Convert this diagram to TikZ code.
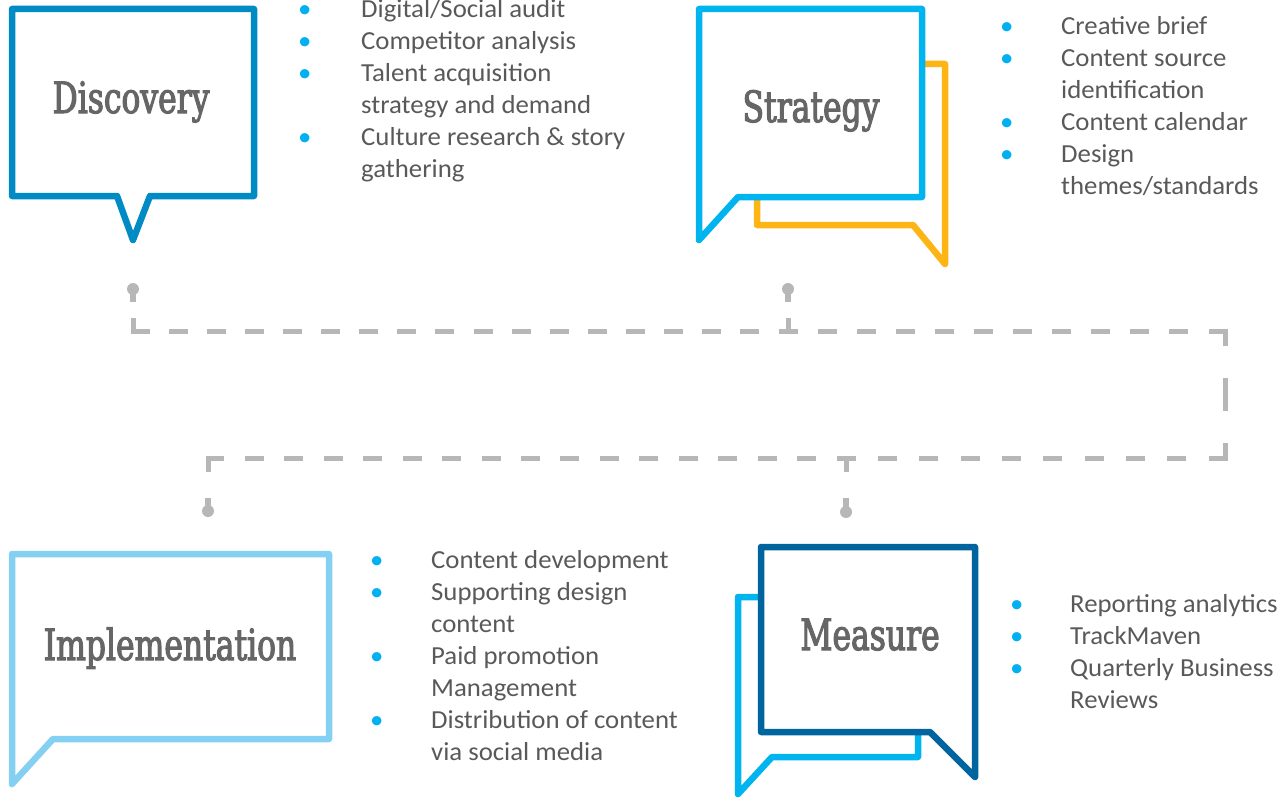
\documentclass[tikz,border=0pt]{standalone}
\usepackage{fontspec}
\setmainfont[FakeStretch=1.03]{Carlito}
\newfontfamily\titlefont[FakeStretch=0.73, FakeBold=2.5]{DejaVu Serif}
\usepackage{array}

\definecolor{discblue}{HTML}{008BC4}
\definecolor{stratblue}{HTML}{00B4EF}
\definecolor{stratorange}{HTML}{FDB515}
\definecolor{implblue}{HTML}{84D0F2}
\definecolor{measdark}{HTML}{00659E}
\definecolor{measlight}{HTML}{00B4EF}
\definecolor{linkgray}{HTML}{B7B7B7}
\definecolor{titlegray}{HTML}{666666}
\definecolor{textgray}{HTML}{595959}
\definecolor{bulletblue}{HTML}{00B0F0}

% bullet list: first column holds the bullet, second the text
\newcommand{\bul}{\textcolor{bulletblue}{•}}
\newcommand{\itemlist}[2]{\begin{tabular}[t]{@{}p{#1}@{}l@{}}#2\end{tabular}}

\tikzset{
  bubble/.style={line width=6.5pt, line join=round, fill=white},
  phase/.style={font=\titlefont\fontsize{43}{43}\selectfont, text=titlegray, inner sep=0pt, anchor=base},
  items/.style={font=\fontsize{26}{32}\selectfont, text=textgray, inner sep=0pt, anchor=base west},
  seg/.style={draw=linkgray, line width=5pt, line cap=rect},
  pinhead/.style={fill=linkgray},
}

\begin{document}
\begin{tikzpicture}[x=1pt, y=-1pt]
\useasboundingbox (0,0) rectangle (1277,800);

% ---------- Discovery ----------
\draw[bubble, draw=discblue] (12,9) -- (254,9) -- (254,196) -- (150,196)
  -- (133,240) -- (117,196) -- (12,196) -- cycle;
\node[phase] (discovery) at (131,113) {Discovery};
\node[items] (disclist) at (298,18) {\itemlist{63pt}{%
  \bul & Digital/Social audit\\
  \bul & Competitor analysis\\
  \bul & Talent acquisition\\
       & strategy and demand\\
  \bul & Culture research \& story\\
       & gathering}};

% ---------- Strategy ----------
\draw[bubble, draw=stratorange] (757,64) -- (945,64) -- (945,264) -- (913,225)
  -- (757,225) -- cycle;
\draw[bubble, draw=stratblue] (699,9) -- (922,9) -- (922,197) -- (738,197)
  -- (699,240) -- cycle;
\node[phase] (strategy) at (811,122) {Strategy};
\node[items] (stratlist) at (1000,35) {\itemlist{61pt}{%
  \bul & Creative brief\\
  \bul & Content source\\
       & identification\\
  \bul & Content calendar\\
  \bul & Design\\
       & themes/standards}};

% ---------- Implementation ----------
\draw[bubble, draw=implblue] (12,554) -- (329,554) -- (329,739) -- (53,739)
  -- (12,784) -- cycle;
\node[phase] (implementation) at (170,660) {Implementation};
\node[items] (impllist) at (370,568) {\itemlist{61pt}{%
  \bul & Content development\\
  \bul & Supporting design\\
       & content\\
  \bul & Paid promotion\\
       & Management\\
  \bul & Distribution of content\\
       & via social media}};

% ---------- Measure ----------
\draw[bubble, draw=measlight] (738,597) -- (918,597) -- (918,757) -- (772,757)
  -- (738,794) -- cycle;
\draw[bubble, draw=measdark] (761,547) -- (975,547) -- (975,777) -- (930,732)
  -- (761,732) -- cycle;
\node[phase] (measure) at (870,650) {Measure};
\node[items] (measlist) at (1010,612) {\itemlist{60pt}{%
  \bul & Reporting analytics\\
  \bul & TrackMaven\\
  \bul & Quarterly Business\\
       & Reviews}};

% ---------- connector pins (round head with a short stem) ----------
\coordinate (pinD) at (133,289);
\coordinate (pinS) at (788,289);
\coordinate (pinI) at (208,511);
\coordinate (pinM) at (846,512);

\fill[pinhead] (pinD) circle (6pt);
\fill[pinhead] ([xshift=-2.8pt]pinD) rectangle ([xshift=2.8pt,yshift=-13pt]pinD);
\fill[pinhead] (pinS) circle (6pt);
\fill[pinhead] ([xshift=-2.8pt]pinS) rectangle ([xshift=2.8pt,yshift=-13pt]pinS);
\fill[pinhead] (pinI) circle (6pt);
\fill[pinhead] ([xshift=-2.8pt]pinI) rectangle ([xshift=2.8pt,yshift=13pt]pinI);
\fill[pinhead] (pinM) circle (6pt);
\fill[pinhead] ([xshift=-2.8pt]pinM) rectangle ([xshift=2.8pt,yshift=14pt]pinM);

% ---------- dashed process line ----------
\coordinate (startD) at (133,320.5);
\coordinate (cornerTL) at (133,331);
\coordinate (teeS) at (788,331);
\coordinate (teeStop) at (788,320.5);
\coordinate (cornerTR) at (1225,331);
\coordinate (cornerBR) at (1225,458);
\coordinate (teeM) at (846,458);
\coordinate (teeMbot) at (846,469.5);
\coordinate (cornerBL) at (208,458);
\coordinate (endI) at (208,469.5);

% stubs below Discovery, Strategy and above Implementation, Measure
\draw[seg] (startD) -- (cornerTL);
\draw[seg] (teeStop) -- (teeS);
\draw[seg] (teeM) -- (teeMbot);
\draw[seg] (cornerBL) -- (endI);

% top run: corner dash at each end, half dashes meeting at the Strategy tee
\draw[seg, dash pattern=on 14pt off 24.12pt] (cornerTL) -- (teeS);
\draw[seg, dash pattern=on 14pt off 25.09pt, dash phase=7pt] (teeS) -- (cornerTR);
% right side
\draw[seg, dash pattern=on 12pt off 37pt on 28pt off 37pt on 13pt off 100pt] (cornerTR) -- (cornerBR);
% bottom run, split at the Measure tee
\draw[seg, dash pattern=on 14pt off 27.3pt] (cornerBR) -- (teeM);
\draw[seg, dash pattern=on 14pt off 25.44pt, dash phase=7pt] (teeM) -- (cornerBL);
\end{tikzpicture}
\end{document}
